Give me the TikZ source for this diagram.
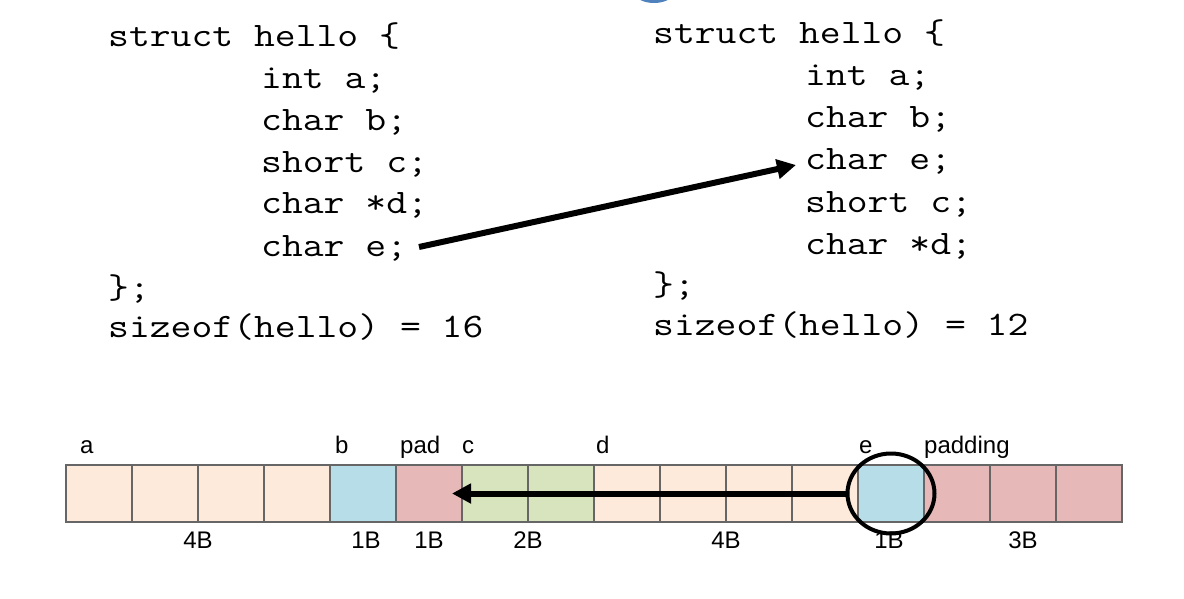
\documentclass[tikz,border=0pt]{standalone}
\usepackage{fontspec}
\setmainfont{Liberation Sans}
\newfontfamily\codefont[FakeStretch=1.18]{Latin Modern Mono}
\usetikzlibrary{arrows.meta,shapes.geometric}
\definecolor{peach}{HTML}{FDEADA}
\definecolor{cellblue}{HTML}{B7DDE8}
\definecolor{cellred}{HTML}{E6B9B8}
\definecolor{cellgreen}{HTML}{D7E4BD}
\definecolor{cellline}{HTML}{666666}
\definecolor{blobblue}{HTML}{4F81BD}
\begin{document}
\begin{tikzpicture}[x=1pt,y=-1pt,
    code/.style={anchor=base west,inner sep=0pt,font=\codefont\fontsize{34.3}{40}\selectfont},
    cell/.style={draw=cellline,line width=2.5pt,minimum width=66pt,minimum height=57pt,inner sep=0pt},
    lbl/.style={anchor=base west,inner sep=0pt,font=\fontsize{24}{28}\selectfont},
    size/.style={anchor=base,inner sep=0pt,font=\fontsize{24}{28}\selectfont},
    bigarrow/.style={line width=6pt,-{Triangle[length=19pt,width=19pt]}}]
    \useasboundingbox (0,0) rectangle (1184,599);
    \fill[blobblue] (654,-8) ellipse [x radius=20, y radius=11];
    % left struct
    \node[code] (ls) at (108,47) {struct hello \{};
    \node[code] (la) at (261,89) {int a;};
    \node[code] (lb) at (261,131) {char b;};
    \node[code] (lc) at (261,173) {short c;};
    \node[code] (ld) at (261,214) {char *d;};
    \node[code] (le) at (261,256) {char e;};
    \node[code] (lend) at (108,298) {\};};
    \node[code] (lsize) at (108,337) {sizeof(hello) = 16};
    % right struct
    \node[code] (rs) at (653,44) {struct hello \{};
    \node[code] (ra) at (805,86) {int a;};
    \node[code] (rb) at (805,128) {char b;};
    \node[code] (re) at (805,170) {char e;};
    \node[code] (rc) at (805,212) {short c;};
    \node[code] (rd) at (805,254) {char *d;};
    \node[code] (rend) at (653,295) {\};};
    \node[code] (rsize) at (653,335) {sizeof(hello) = 12};
    \coordinate (from) at (419,247);
    \coordinate (to) at (796,165);
    % memory layout
    \node[cell,fill=peach] (b0) at (99,493.5) {};
    \node[cell,fill=peach] (b1) at (165,493.5) {};
    \node[cell,fill=peach] (b2) at (231,493.5) {};
    \node[cell,fill=peach] (b3) at (297,493.5) {};
    \node[cell,fill=cellblue] (b4) at (363,493.5) {};
    \node[cell,fill=cellred] (b5) at (429,493.5) {};
    \node[cell,fill=cellgreen] (b6) at (495,493.5) {};
    \node[cell,fill=cellgreen] (b7) at (561,493.5) {};
    \node[cell,fill=peach] (b8) at (627,493.5) {};
    \node[cell,fill=peach] (b9) at (693,493.5) {};
    \node[cell,fill=peach] (b10) at (759,493.5) {};
    \node[cell,fill=peach] (b11) at (825,493.5) {};
    \node[cell,fill=cellblue] (b12) at (891,493.5) {};
    \node[cell,fill=cellred] (b13) at (957,493.5) {};
    \node[cell,fill=cellred] (b14) at (1023,493.5) {};
    \node[cell,fill=cellred] (b15) at (1089,493.5) {};
    \coordinate (padtip) at (452,493.5);
    % field names
    \node[lbl] (na) at (80,453) {a};
    \node[lbl] (nb) at (335,453) {b};
    \node[lbl] (npad) at (400,453) {pad};
    \node[lbl] (nc) at (462,453) {c};
    \node[lbl] (nd) at (596,453) {d};
    \node[lbl] (ne) at (859,453) {e};
    \node[lbl] (npadding) at (924,453) {padding};
    % sizes
    \node[size] (sa) at (198,548) {4B};
    \node[size] (sb) at (366,548) {1B};
    \node[size] (spad) at (429,548) {1B};
    \node[size] (sc) at (528,548) {2B};
    \node[size] (sd) at (726,548) {4B};
    \node[size] (se) at (889,548) {1B};
    \node[size] (spadding) at (1023,548) {3B};
    \node[draw,ellipse,line width=4pt,minimum width=87pt,minimum height=80pt] (ring) at (b12) {};
    \draw[bigarrow] (from) -- (to);
    \draw[bigarrow] (ring.west) -- (padtip);
\end{tikzpicture}
\end{document}
